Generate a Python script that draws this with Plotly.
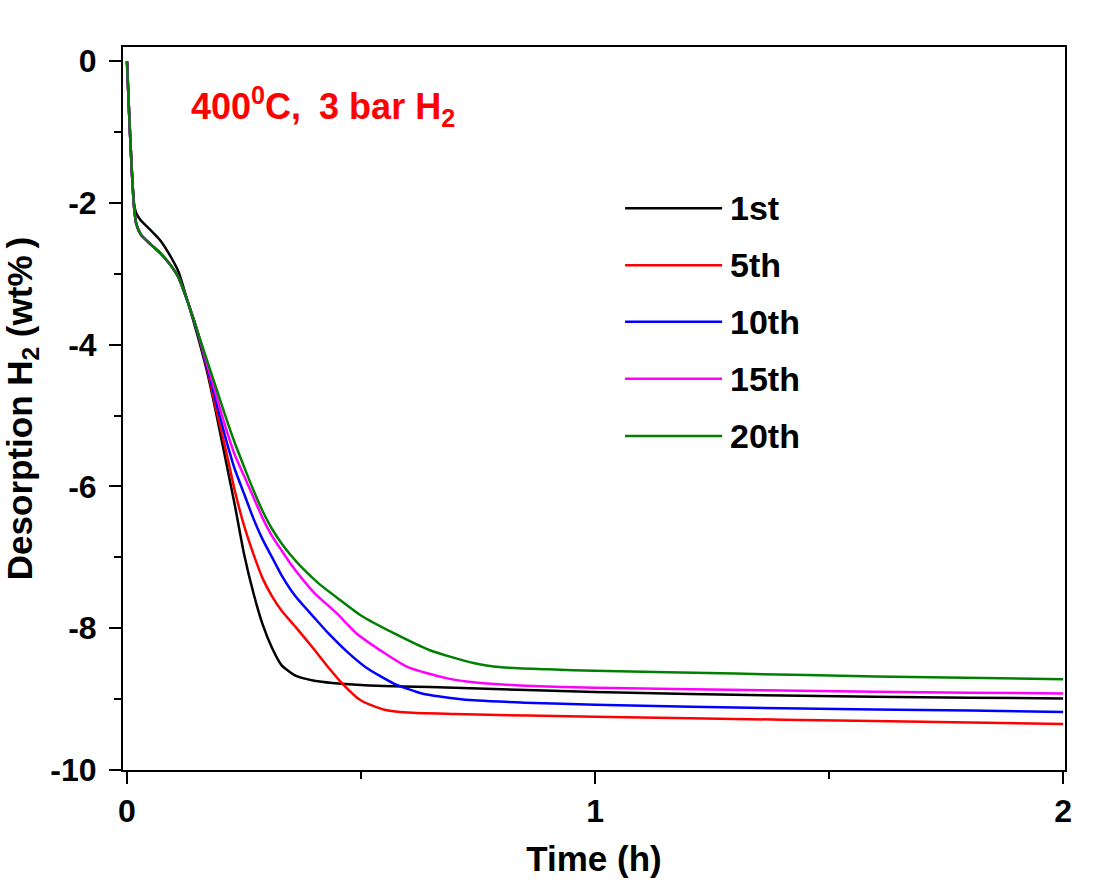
import plotly.graph_objects as go

# ---------------- data ----------------
labels = ["1st", "5th", "10th", "15th", "20th"]
colors = ["#000000", "#ff0000", "#0000ff", "#ff00ff", "#008000"]

t_1st = [0, 0.005, 0.01, 0.015, 0.02, 0.03, 0.05, 0.07, 0.09, 0.11, 0.13, 0.15, 0.17,
         0.19, 0.21, 0.23, 0.25, 0.27, 0.29, 0.31, 0.33, 0.36, 0.40, 0.5, 0.7, 1.0, 1.4, 1.8, 2.0]
y_1st = [0, -0.8, -1.5, -2.0, -2.15, -2.25, -2.38, -2.52, -2.72, -2.97, -3.4, -3.85, -4.35,
         -4.95, -5.6, -6.25, -6.95, -7.5, -7.95, -8.28, -8.52, -8.67, -8.74, -8.80, -8.84,
         -8.90, -8.95, -8.98, -8.99]

t_5th = [0, 0.005, 0.01, 0.015, 0.02, 0.03, 0.05, 0.07, 0.09, 0.11, 0.13, 0.15, 0.17,
         0.19, 0.21, 0.23, 0.25, 0.27, 0.29, 0.31, 0.33, 0.36, 0.40, 0.43, 0.46,
         0.50, 0.55, 0.6, 0.7, 1.0, 1.4, 1.8, 2.0]
y_5th = [0, -0.8, -1.5, -2.05, -2.3, -2.45, -2.58, -2.7, -2.85, -3.05, -3.4, -3.8, -4.3,
         -4.9, -5.45, -6.05, -6.55, -6.95, -7.3, -7.55, -7.75, -7.98, -8.3, -8.55,
         -8.78, -9.02, -9.15, -9.19, -9.21, -9.25, -9.29, -9.33, -9.35]

t_10th = [0, 0.005, 0.01, 0.015, 0.02, 0.03, 0.05, 0.07, 0.09, 0.11, 0.13, 0.15, 0.17,
          0.19, 0.21, 0.23, 0.25, 0.27, 0.29, 0.31, 0.33, 0.36, 0.40, 0.43, 0.47, 0.51,
          0.57, 0.63, 0.7, 0.75, 0.85, 1.0, 1.4, 1.8, 2.0]
y_10th = [0, -0.8, -1.5, -2.05, -2.3, -2.45, -2.58, -2.7, -2.85, -3.05, -3.4, -3.8, -4.28,
          -4.8, -5.3, -5.75, -6.1, -6.45, -6.75, -7.0, -7.25, -7.55, -7.85, -8.07, -8.33,
          -8.55, -8.78, -8.92, -8.99, -9.02, -9.05, -9.08, -9.13, -9.16, -9.18]

t_15th = [0, 0.005, 0.01, 0.015, 0.02, 0.03, 0.05, 0.07, 0.09, 0.11, 0.13, 0.15, 0.17,
          0.19, 0.21, 0.23, 0.25, 0.27, 0.29, 0.31, 0.33, 0.355, 0.40, 0.45, 0.49, 0.55,
          0.60, 0.68, 0.75, 0.85, 1.0, 1.4, 1.8, 2.0]
y_15th = [0, -0.8, -1.5, -2.05, -2.3, -2.45, -2.58, -2.7, -2.85, -3.05, -3.4, -3.8, -4.25,
          -4.7, -5.15, -5.55, -5.85, -6.15, -6.45, -6.7, -6.9, -7.14, -7.5, -7.8, -8.07,
          -8.35, -8.55, -8.7, -8.77, -8.81, -8.84, -8.88, -8.91, -8.92]

t_20th = [0, 0.005, 0.01, 0.015, 0.02, 0.03, 0.05, 0.07, 0.09, 0.11, 0.13, 0.15, 0.17,
          0.19, 0.21, 0.23, 0.25, 0.27, 0.29, 0.31, 0.33, 0.35, 0.376, 0.41, 0.455, 0.5,
          0.57, 0.647, 0.74, 0.8, 0.9, 1.0, 1.3, 1.6, 2.0]
y_20th = [0, -0.8, -1.5, -2.05, -2.3, -2.45, -2.58, -2.7, -2.85, -3.05, -3.4, -3.8, -4.2,
          -4.6, -5.0, -5.38, -5.72, -6.05, -6.35, -6.6, -6.8, -6.97, -7.16, -7.37, -7.6,
          -7.82, -8.07, -8.31, -8.49, -8.55, -8.58, -8.6, -8.64, -8.68, -8.72]

series_t = [t_1st, t_5th, t_10th, t_15th, t_20th]
series_y = [y_1st, y_5th, y_10th, y_15th, y_20th]

x_ticks = [0, 1, 2]
y_ticks = [0, -2, -4, -6, -8, -10]

FONT = "Liberation Sans, Arial, sans-serif"

fig = go.Figure()
for lab, col, tx, ty in zip(labels, colors, series_t, series_y):
    fig.add_trace(go.Scatter(x=tx, y=ty, mode="lines", name=lab,
                             line=dict(color=col, width=2.5, shape="spline", smoothing=0.6),
                             showlegend=False))

# manual legend (long line samples as in the reference)
leg_x0, leg_x1, leg_tx = 0.533, 0.636, 0.642
leg_y = [0.777, 0.698, 0.620, 0.541, 0.462]
for lab, col, yy in zip(labels, colors, leg_y):
    fig.add_shape(type="line", xref="paper", yref="paper", x0=leg_x0, x1=leg_x1,
                  y0=yy, y1=yy, line=dict(color=col, width=2.5))
    fig.add_annotation(xref="paper", yref="paper", x=leg_tx, y=yy, text=lab,
                       showarrow=False, xanchor="left", yanchor="middle",
                       font=dict(family=FONT, size=34, color="black", weight="bold"))

fig.add_annotation(xref="paper", yref="paper", x=0.07, y=0.918,
                   text="400<sup>0</sup>C,&#8194;3 bar H<sub>2</sub>", showarrow=False,
                   xanchor="left", yanchor="middle",
                   font=dict(family=FONT, size=36, color="#ff0000", weight="bold"))

axis_common = dict(showline=True, linecolor="black", linewidth=2, mirror=True,
                   ticks="outside", ticklen=12, tickwidth=2, tickcolor="black",
                   showgrid=False, zeroline=False,
                   tickfont=dict(family=FONT, size=32, color="black", weight="bold"))

fig.update_xaxes(range=[-0.0085, 2.004], tickvals=x_ticks, ticktext=[str(v) for v in x_ticks],
                 minor=dict(ticks="outside", dtick=0.5, tick0=0, ticklen=7, tickwidth=2,
                            tickcolor="black"),
                 title=dict(text="Time (h)", standoff=18,
                            font=dict(family=FONT, size=35, color="black", weight="bold")),
                 **axis_common)
fig.update_yaxes(range=[-10, 0.2], tickvals=y_ticks, ticktext=[str(v) for v in y_ticks],
                 minor=dict(ticks="outside", dtick=1, tick0=0, ticklen=7, tickwidth=2,
                            tickcolor="black"),
                 ticklabelstandoff=6,
                 title=dict(text="Desorption H<sub>2</sub> (wt%&#8201;)", standoff=12,
                            font=dict(family=FONT, size=35, color="black", weight="bold")),
                 **axis_common)

fig.update_layout(width=1094, height=889, plot_bgcolor="white", paper_bgcolor="white",
                  margin=dict(l=123, r=29, t=47, b=119, autoexpand=False))

fig.write_html("out.html")
